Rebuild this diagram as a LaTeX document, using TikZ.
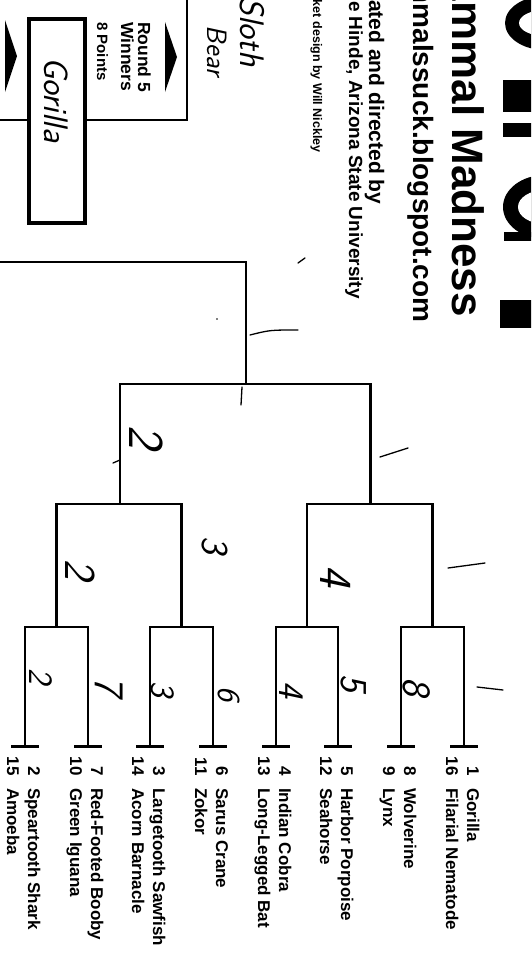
\documentclass[tikz,border=0pt]{standalone}
\usepackage{fontspec}
\newfontfamily\arial{Liberation Sans}
\usetikzlibrary{calc}
\begin{document}
\begin{tikzpicture}[x=1pt,y=-1pt,
  br/.style={line width=2.2pt},
  leaf/.style={line width=3pt},
  lab/.style={font=\arial\bfseries\fontsize{17}{19}\selectfont, rotate=-90, inner sep=0pt},
  hdr/.style={rotate=-90, inner sep=0pt, anchor=base west},
  hw/.style={font=\sffamily\itshape\fontsize{#1}{#1}\selectfont, rotate=-90, inner sep=0pt},
  hw/.default=36,
  pen/.style={line width=1.3pt, line cap=round}]
\useasboundingbox (0,0) rectangle (531,972);
\fill[white] (0,0) rectangle (531,972);
\clip (0,0) rectangle (531,972);

% ---- header (cut-off title fragments) ----
\fill (545,23) ellipse [x radius=40, y radius=27];
\fill[white] (545,23) ellipse [x radius=26, y radius=13];
\fill (503,80) rectangle (532,112);
\fill (503,123) rectangle (532,137);
\fill (545,207) ellipse [x radius=42, y radius=32];
\fill[white] (545,207) ellipse [x radius=27, y radius=17];
\fill (504,232) rectangle (532,241);
\fill (500,300) rectangle (532,328);

\node[hdr, font=\arial\bfseries\fontsize{44}{44}\selectfont] (title) at (452,-60) {Mammal Madness};
\node[hdr, font=\arial\bfseries\fontsize{28}{28}\selectfont] (url) at (413,-62) {mammalssuck.blogspot.com};
\node[hdr, font=\arial\bfseries\fontsize{21}{21}\selectfont] (cred1) at (369,-35) {Created and directed by};
\node[hdr, font=\arial\bfseries\fontsize{19}{19}\selectfont] (cred2) at (349,-35) {Katie Hinde, Arizona State University};
\node[hdr, font=\arial\bfseries\fontsize{12.5}{12.5}\selectfont] (cred3) at (313,-28) {Bracket design by Will Nickley};

% ---- round 5 box ----
\coordinate (b0) at (-5,120);
\coordinate (bc) at (187,120);
\coordinate (b1) at (187,-5);
\draw[br] (b0) -- (bc) -- (b1);
\fill (165,22) -- (165,92) -- (177,57) -- cycle;
\fill (5,20) -- (5,92) -- (17,56) -- cycle;
\node[hdr, font=\arial\bfseries\fontsize{17.5}{17.5}\selectfont] (r5a) at (138,22) {Round 5};
\node[hdr, font=\arial\bfseries\fontsize{17.5}{17.5}\selectfont] (r5b) at (121,22) {Winners};
\node[hdr, font=\arial\bfseries\fontsize{15}{15}\selectfont] (r5c) at (97,22) {8 Points};
\node[draw, line width=4pt, fill=white, minimum width=56pt, minimum height=204pt, inner sep=0pt] (win) at (57,121) {};
\node[hw=34] (winname) at (56,100) {Gorilla};
\node[hw=34] (sloth) at (252,32) {Sloth};
\node[hw=28] (bear) at (217,51) {Bear};

% ---- leaves ----
\foreach \i/\x/\na/\ta/\nb/\tb in {
 1/25/2/Speartooth Shark/15/Amoeba,
 2/88/7/Red-Footed Booby/10/Green Iguana,
 3/150/3/Largetooth Sawfish/14/Acorn Barnacle,
 4/213/6/Sarus Crane/11/Zokor,
 5/276/4/Indian Cobra/13/Long-Legged Bat,
 6/338/5/Harbor Porpoise/12/Seahorse,
 7/401/8/Wolverine/9/Lynx,
 8/464/1/Gorilla/16/Filarial Nematode}{
 \coordinate (l\i) at (\x,746);
 \draw[leaf] ([xshift=-14pt]l\i) -- ([xshift=14pt]l\i);
 \node[lab,anchor=base east] (sa\i) at (\x+3,776) {\na};
 \node[lab,anchor=base west] (ta\i) at (\x+3,788) {\ta};
 \node[lab,anchor=base east] (sb\i) at (\x-18,776) {\nb};
 \node[lab,anchor=base west] (tb\i) at (\x-18,788) {\tb};
}

% ---- bracket ----
\coordinate (r1a) at (56.5,627);
\coordinate (r1b) at (181.5,627);
\coordinate (r1c) at (307,627);
\coordinate (r1d) at (432.5,627);
\coordinate (r2a) at (120,504);
\coordinate (r2b) at (370.5,504);
\coordinate (r3) at (246,384);
\coordinate (r4) at (246,262);
\coordinate (r4e) at (-5,262);
\draw[br] (l1) |- (r1a) -| (l2);
\draw[br] (l3) |- (r1b) -| (l4);
\draw[br] (l5) |- (r1c) -| (l6);
\draw[br] (l7) |- (r1d) -| (l8);
\draw[br] (r1a) |- (r2a) -| (r1b);
\draw[br] (r1c) |- (r2b) -| (r1d);
\draw[br] (r2a) |- (r3) -| (r2b);
\draw[br] (r3) -- (r4) -- (r4e);

% ---- handwritten picks ----
\node[hw=34] (p1) at (41,676) {2};
\node[hw=42] (p2) at (109,686) {7};
\node[hw=34] (p3) at (163,689) {3};
\node[hw=32] (p4) at (229,694) {6};
\node[hw=36] (p5) at (291,690) {4};
\node[hw=38] (p6) at (354,683) {5};
\node[hw=40] (p7) at (417,687) {8};
\draw[pen] (477,687) -- (503,690);
\node[hw=44] (q1) at (80,570) {2};
\node[hw=38] (q2) at (215,545) {3};
\node[hw=46] (q3) at (336,576) {4};
\draw[pen] (448,568) -- (485,563);
\node[hw=50] (s1) at (146,437) {2};
\draw[pen] (380,457) -- (408,448);
\draw[pen] (250,335) .. controls (270,330) .. (298,330);
\draw[pen] (113,463) -- (120,460);
\draw[pen] (242,387) -- (241,405);
\draw[pen] (298,263) -- (305,258);
\fill (217,319) circle (0.8);
\end{tikzpicture}
\end{document}
